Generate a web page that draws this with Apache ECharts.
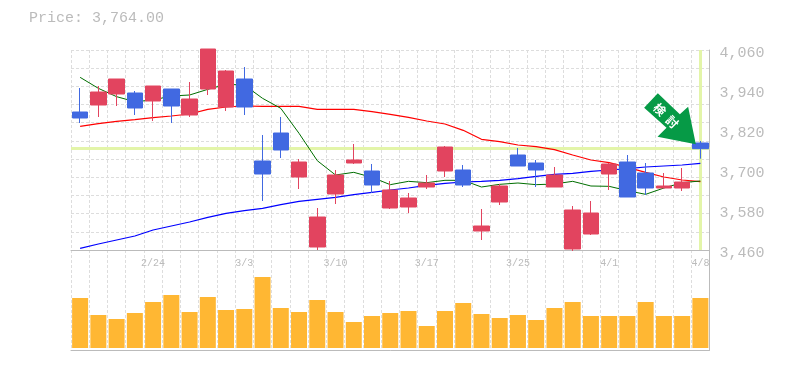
<!DOCTYPE html>
<html><head><meta charset="utf-8">
<style>html,body{margin:0;padding:0;background:#fff}#c{width:785px;height:370px}</style>
<script src="https://cdn.jsdelivr.net/npm/echarts@6/dist/echarts.min.js"></script>
</head><body><div id="c"></div>
<script>
const dates = ['2/18','2/19','2/20','2/21','2/24','2/25','2/26','2/27','2/28','3/3','3/4','3/5','3/6','3/7','3/10','3/11','3/12','3/13','3/14','3/17','3/18','3/19','3/21','3/24','3/25','3/26','3/27','3/28','3/31','4/1','4/2','4/3','4/4','4/7','4/8'];
const shownDates = ['2/24','3/3','3/10','3/17','3/25','4/1','4/8'];
const opens  = [3874,3895,3928,3931,3907,3943,3865,3943,3889,3973,3727,3811,3679,3469,3628,3721,3697,3586,3589,3649,3697,3700,3517,3604,3745,3721,3649,3463,3508,3688,3724,3691,3646,3646,3781];
const closes = [3856,3934,3973,3886,3952,3892,3913,4063,3997,3889,3688,3760,3724,3559,3685,3730,3655,3640,3616,3661,3769,3655,3532,3652,3712,3700,3685,3580,3571,3718,3619,3646,3652,3664,3764];
const lows   = [3841,3859,3892,3865,3847,3841,3859,3925,3877,3865,3607,3736,3643,3460,3598,3718,3631,3583,3571,3643,3679,3649,3490,3595,3712,3649,3649,3457,3505,3640,3619,3625,3646,3637,3734];
const highs  = [3946,3952,3973,3937,3952,3943,3964,4063,4000,4009,3805,3859,3733,3586,3700,3778,3718,3667,3631,3685,3772,3715,3583,3658,3766,3730,3709,3592,3607,3721,3745,3721,3691,3706,3787];
const maShort = [3978,3945,3920,3905,3910,3922,3925,3942,3957,3955,3915,3885,3810,3728,3685,3693,3678,3656,3666,3662,3669,3669,3649,3657,3661,3656,3658,3666,3652,3651,3638,3627,3646,3662,3667];
const maMid   = [3831,3839,3846,3851,3857,3862,3868,3882,3889,3892,3891,3891,3891,3882,3882,3882,3875,3867,3858,3847,3838,3819,3792,3785,3775,3770,3761,3745,3730,3722,3708,3693,3679,3670,3665];
const maLong  = [3465,3478,3490,3502,3520,3532,3544,3558,3570,3578,3585,3596,3606,3612,3618,3626,3633,3640,3646,3654,3660,3664,3666,3669,3674,3681,3687,3690,3696,3700,3704,3709,3712,3715,3720];
const volumes = [50,33,29,35,46,53,36,51,38,39,71,40,36,48,36,26,32,35,37,22,37,45,34,30,33,28,40,46,32,32,32,46,32,32,50];
const priceTicks = [3460,3580,3700,3820,3940,4060];
const lastPrice = 3764;
const titleText = 'Price: 3,764.00';
const signalText = '検  討';

const gray = '#bbbbbb', gridC = '#dddddd', mono = '"Liberation Mono", monospace';
const last = dates[dates.length - 1];
const split = {show:true, lineStyle:{color:gridC, type:[3,2], width:1}};
const arrowPath = 'path://M13.7 0 L0 14.4 L22.4 34.4 L13.4 43.4 L51.7 51 L44 13.4 L35.7 21 Z';
const chart = echarts.init(document.getElementById('c'), null, {renderer:'canvas'});
chart.setOption({
  animation:false,
  backgroundColor:'#fff',
  title:{text:titleText, left:29, top:11, padding:0, textStyle:{fontFamily:mono, fontSize:15, fontWeight:'normal', color:gray}},
  grid:[{left:71, width:638.5, top:50, height:200},{left:71, width:638.5, top:250, height:100}],
  xAxis:[
    {type:'category', gridIndex:0, data:dates, boundaryGap:true,
     axisLine:{show:true, onZero:false, lineStyle:{color:gray}}, axisTick:{show:false},
     axisLabel:{show:true, color:gray, fontFamily:mono, fontSize:10, margin:8, hideOverlap:false,
       interval:(i,v)=>shownDates.includes(v)},
     splitLine:Object.assign({interval:0},split)},
    {type:'category', gridIndex:1, data:dates, boundaryGap:true,
     axisLine:{show:true, onZero:false, lineStyle:{color:gray}}, axisTick:{show:false}, axisLabel:{show:false},
     splitLine:Object.assign({interval:0},split)}
  ],
  yAxis:[
    {type:'value', gridIndex:0, position:'right', min:3460, max:4060, scale:true,
     axisLine:{show:true, lineStyle:{color:gray}}, axisTick:{show:false}, splitLine:{show:false},
     axisLabel:{show:true, customValues:priceTicks, color:gray, fontFamily:mono, fontSize:15, margin:10,
       verticalAlign:'top', lineHeight:6, showMinLabel:true, showMaxLabel:true,
       formatter:v=>String(v).replace(/(\d)(\d{3})$/,'$1,$2')}},
    {type:'value', gridIndex:0, position:'left', min:0, max:11, interval:1,
     axisLine:{show:false}, axisTick:{show:false}, axisLabel:{show:false}, splitLine:split},
    {type:'value', gridIndex:1, position:'right', min:-2, max:98,
     axisLine:{show:true, lineStyle:{color:gray}}, axisTick:{show:false}, axisLabel:{show:false}, splitLine:{show:false}}
  ],
  series:[
    {type:'line', name:'guide', xAxisIndex:0, yAxisIndex:0, data:[], z:1, silent:true,
     markLine:{silent:true, z:1, symbol:'none', animation:false, label:{show:false},
       lineStyle:{color:'#e3f5a9', width:3, type:'solid'},
       data:[{yAxis:lastPrice},{xAxis:last}]}},
    {type:'line', name:'long', xAxisIndex:0, yAxisIndex:0, data:maLong, symbol:'none', z:2, lineStyle:{color:'#0000ff', width:1.2}},
    {type:'line', name:'mid', xAxisIndex:0, yAxisIndex:0, data:maMid, symbol:'none', z:2, lineStyle:{color:'#ff0000', width:1.2}},
    {type:'line', name:'short', xAxisIndex:0, yAxisIndex:0, data:maShort, symbol:'none', z:2, lineStyle:{color:'#006e00', width:1}},
    {type:'candlestick', name:'price', xAxisIndex:0, yAxisIndex:0, z:3, clip:false, barWidth:16,
     data:dates.map((d,i)=>[opens[i],closes[i],lows[i],highs[i]]),
     itemStyle:{color:'#e2445f', color0:'#4169e1', borderColor:'#e2445f', borderColor0:'#4169e1', borderWidth:1},
     markPoint:{silent:true, z:6, animation:false,
       data:[
        {coord:[last,lastPrice], symbol:arrowPath, symbolSize:[51.7,51], symbolKeepAspect:false, symbolOffset:[-30.4,-29.9],
         itemStyle:{color:'#069a46'},
         label:{show:true, formatter:signalText, position:'inside', rotate:-45, offset:[-5,0.7], color:'#fff', fontSize:12, fontWeight:'bold', fontFamily:'"Noto Sans CJK JP"'}}
       ]}},
    {type:'bar', name:'volume', xAxisIndex:1, yAxisIndex:2, data:volumes, barWidth:16, z:3, itemStyle:{color:'#ffb733'}}
  ]
});
</script></body></html>
